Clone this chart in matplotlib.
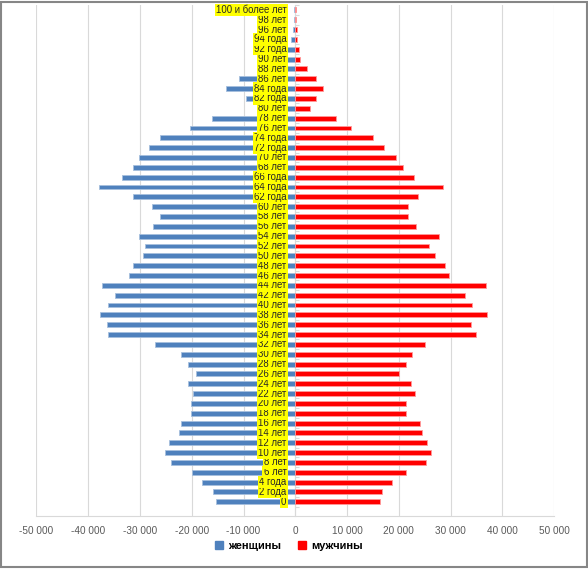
import numpy as np
import matplotlib
matplotlib.use('Agg')
import matplotlib.pyplot as plt
from matplotlib import font_manager
from matplotlib.ticker import FuncFormatter
from matplotlib.patches import Rectangle

try:
    font_manager.findfont('Liberation Sans Narrow', fallback_to_default=False)
    label_font = 'Liberation Sans Narrow'
    label_size = 8
except ValueError:
    label_font = 'Liberation Sans'
    label_size = 6.9

plt.rcParams['font.family'] = ['Liberation Sans', 'DejaVu Sans']

labels = ['0', '2 года', '4 года', '6 лет', '8 лет', '10 лет', '12 лет', '14 лет', '16 лет',
          '18 лет', '20 лет', '22 лет', '24 лет', '26 лет', '28 лет', '30 лет', '32 лет',
          '34 лет', '36 лет', '38 лет', '40 лет', '42 лет', '44 лет', '46 лет', '48 лет',
          '50 лет', '52 лет', '54 лет', '56 лет', '58 лет', '60 лет', '62 года', '64 года',
          '66 года', '68 лет', '70 лет', '72 года', '74 года', '76 лет', '78 лет', '80 лет',
          '82 года', '84 года', '86 лет', '88 лет', '90 лет', '92 года', '94 года', '96 лет',
          '98 лет', '100 и более лет']

women = [-15400, -15900, -18000, -20000, -24100, -25200, -24400, -22400, -22000,
         -20200, -20100, -19800, -20700, -19100, -20800, -22100, -27000,
         -36100, -36300, -37800, -36100, -34900, -37300, -32100, -31300,
         -29500, -29100, -30200, -27400, -26100, -27600, -31400, -37900,
         -33500, -31300, -30200, -28300, -26100, -20300, -16100, -6000,
         -9500, -13400, -10800, -5000, -3000, -2000, -900, -450,
         -250, -250]

men = [16400, 16700, 18600, 21300, 25200, 26300, 25500, 24500, 24000,
       21400, 21400, 23200, 22400, 20100, 21400, 22500, 25000,
       34900, 33900, 37000, 34200, 32700, 36800, 29600, 28900,
       26900, 25900, 27800, 23400, 21700, 21700, 23700, 28600,
       23000, 20800, 19500, 17200, 15000, 10800, 7900, 2800,
       4000, 5300, 4000, 2300, 900, 700, 400, 300,
       100, 100]

blue = '#4F81BD'
red = '#FF0000'

fig = plt.figure(figsize=(5.88, 5.69), dpi=100)
ax = fig.add_axes([0.0619, 0.0931, 0.8806, 0.8981])

y = np.arange(len(labels))
ax.barh(y, women, height=0.5, color=blue, edgecolor='#A7C0DE', linewidth=0.6, zorder=2)
ax.barh(y, men, height=0.5, color=red, edgecolor='#FF9A9A', linewidth=0.6, zorder=2)

for i, lab in enumerate(labels):
    ax.text(-1700, i, lab, ha='right', va='center', fontsize=label_size, color='#262626',
            family=[label_font, 'DejaVu Sans'],
            bbox=dict(boxstyle='square,pad=0.12', fc='#FFFF00', ec='none'), zorder=4)

ax.set_xlim(-50000, 50000)
ax.set_ylim(-1.45, 50.5)
ax.set_xticks(np.arange(-50000, 50001, 10000))
ax.xaxis.set_major_formatter(FuncFormatter(lambda v, p: '{:,.0f}'.format(v).replace(',', ' ')))
ax.tick_params(axis='x', length=0, labelsize=7.2, labelcolor='#595959', pad=7)
ax.grid(axis='x', color='#D9D9D9', linewidth=0.8, zorder=0)

# category axis at zero
ax.spines['left'].set_position(('data', 0))
ax.spines['left'].set_color('#D9D9D9')
ax.spines['left'].set_zorder(1)
ax.set_yticks(np.arange(-0.5, 51, 1))
ax.set_yticklabels([])
ax.tick_params(axis='y', direction='in', length=3, color='#D9D9D9')
ax.yaxis.set_ticks_position('left')
for s in ['top', 'right']:
    ax.spines[s].set_visible(False)
ax.spines['bottom'].set_color('#D9D9D9')

handles = [Rectangle((0, 0), 1, 1, color=blue), Rectangle((0, 0), 1, 1, color=red)]
fig.legend(handles, ['женщины', 'мужчины'], loc='center', ncol=2, frameon=False,
           bbox_to_anchor=(0.4914, 1 - 546 / 569), handlelength=0.7, handleheight=0.7,
           columnspacing=1.52, handletextpad=0.5,
           prop={'size': 8, 'weight': 'bold'})

fig.patches.append(Rectangle((0.002, 0.003), 0.996, 0.994, transform=fig.transFigure,
                             fill=False, ec='#868686', lw=1.5))

fig.savefig('out.png', dpi=100, facecolor='white')
